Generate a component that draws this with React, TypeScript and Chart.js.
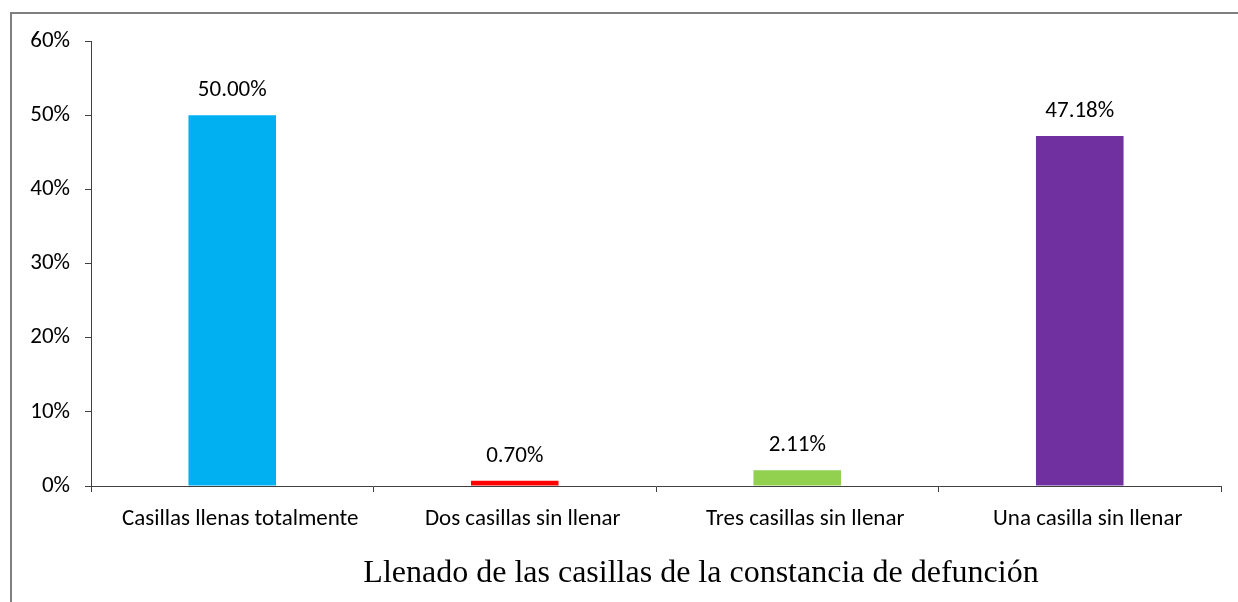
import React, { useEffect, useRef } from "react";
import { Chart, registerables } from "chart.js";

Chart.register(...registerables);

const categories = [
  "Casillas llenas totalmente",
  "Dos casillas sin llenar",
  "Tres casillas sin llenar",
  "Una casilla sin llenar",
];
const values = [50.0, 0.7, 2.11, 47.18];
const barColors = ["#00B0F0", "#FF0000", "#92D050", "#7030A0"];
const xTitle = "Llenado de las casillas de la constancia de defunción";

const SANS = "Carlito, Lato, 'Liberation Sans', sans-serif";
const SERIF = "'Liberation Serif', 'Times New Roman', serif";

const framePlugin = {
  id: "frame",
  beforeDraw(chart: any) {
    const { ctx, width, height } = chart;
    ctx.save();
    ctx.fillStyle = "#ffffff";
    ctx.fillRect(0, 0, width, height);
    ctx.strokeStyle = "#7f7f7f";
    ctx.lineWidth = 2;
    ctx.beginPath();
    ctx.moveTo(11, height + 2);
    ctx.lineTo(11, 13);
    ctx.lineTo(width + 2, 13);
    ctx.stroke();
    ctx.restore();
  },
};

const labelPlugin = {
  id: "valueLabels",
  afterDatasetsDraw(chart: any) {
    const { ctx } = chart;
    const meta = chart.getDatasetMeta(0);
    ctx.save();
    ctx.fillStyle = "#000000";
    ctx.font = `23px ${SANS}`;
    ctx.textAlign = "center";
    ctx.textBaseline = "middle";
    meta.data.forEach((bar: any, i: number) => {
      const v = chart.data.datasets[0].data[i] as number;
      ctx.fillText(v.toFixed(2) + "%", bar.x, bar.y - 25);
    });
    // axis title
    ctx.font = `32px ${SERIF}`;
    ctx.textBaseline = "alphabetic";
    ctx.fillText(xTitle, 701, 582);
    ctx.restore();
  },
};

export default function App() {
  const ref = useRef<HTMLCanvasElement | null>(null);

  useEffect(() => {
    if (!ref.current) return;
    const chart = new Chart(ref.current, {
      type: "bar",
      data: {
        labels: categories,
        datasets: [
          {
            data: values,
            backgroundColor: barColors,
            borderWidth: 0,
            categoryPercentage: 1,
            barPercentage: 0.31,
          },
        ],
      },
      options: {
        responsive: false,
        animation: false,
        layout: { padding: { top: 41, right: 17, left: 0, bottom: 0 } },
        plugins: {
          legend: { display: false },
          tooltip: { enabled: false },
          title: { display: false },
        },
        scales: {
          x: {
            afterFit(scale: any) {
              scale.height = 116;
            },
            grid: {
              display: true,
              drawOnChartArea: false,
              drawTicks: true,
              tickLength: 6,
              tickColor: "#404040",
              offset: true,
            },
            border: { display: true, color: "#404040", width: 1 },
            ticks: {
              color: "#000000",
              font: { family: SANS, size: 23 },
              padding: 13,
              maxRotation: 0,
              autoSkip: false,
              labelOffset: 8,
            },
            title: { display: false },
          },
          y: {
            min: 0,
            max: 60,
            afterFit(scale: any) {
              scale.width = 91;
            },
            grid: {
              display: true,
              drawOnChartArea: false,
              drawTicks: true,
              tickLength: 6,
              tickColor: "#404040",
            },
            border: { display: true, color: "#404040", width: 1 },
            ticks: {
              stepSize: 10,
              color: "#000000",
              font: { family: SANS, size: 23 },
              padding: 15,
              callback: (v: any) => `${v}%`,
            },
          },
        },
      },
      plugins: [framePlugin, labelPlugin],
    });
    return () => chart.destroy();
  }, []);

  return (
    <canvas
      ref={ref}
      width={1238}
      height={602}
      style={{ position: "absolute", left: 0, top: 0, display: "block" }}
    />
  );
}
